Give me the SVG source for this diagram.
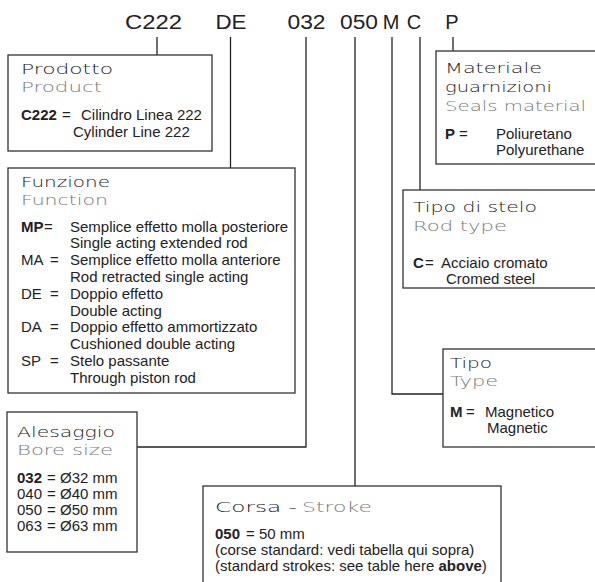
<svg xmlns="http://www.w3.org/2000/svg" width="595" height="582" viewBox="0 0 595 582">
<style>
.hd{font-family:"DejaVu Sans",sans-serif;font-weight:200;font-size:14px;fill:#1a1a1a}
.hg{fill:#7a7a7a}
.b{font-family:"Liberation Sans",Arial,sans-serif;font-size:15px;fill:#222}
.bb{font-weight:bold}
.box{fill:#fff;stroke:#333;stroke-width:1.3}
.ln{stroke:#222;stroke-width:1.3;fill:none}
.code{font-family:"Liberation Sans",Arial,sans-serif;font-size:20px;fill:#222;text-anchor:middle}
</style>
<rect width="595" height="582" fill="#fff"/>
<g id="code">
<text class="code" x="153.5" y="29" textLength="57" lengthAdjust="spacingAndGlyphs">C222</text>
<text class="code" x="231" y="29" textLength="31" lengthAdjust="spacingAndGlyphs">DE</text>
<text class="code" x="306.5" y="29" textLength="38" lengthAdjust="spacingAndGlyphs">032</text>
<text class="code" x="359" y="29" textLength="38" lengthAdjust="spacingAndGlyphs">050</text>
<text class="code" x="391" y="29">M</text>
<text class="code" x="414" y="29">C</text>
<text class="code" x="452" y="29">P</text>
</g>
<g id="connectors">
<path class="ln" d="M157 37V55"/>
<path class="ln" d="M230.5 37V168"/>
<path class="ln" d="M306 37V447H137"/>
<path class="ln" d="M355 37V486"/>
<path class="ln" d="M392 37V394H443"/>
<path class="ln" d="M420 37V190"/>
<path class="ln" d="M453 37V51"/>
</g>
<g id="prodotto">
<rect class="box" x="8" y="55" width="204" height="96"/>
<text class="hd" x="21" y="74" textLength="92" lengthAdjust="spacingAndGlyphs">Prodotto</text>
<text class="hd hg" x="21" y="92" textLength="81" lengthAdjust="spacingAndGlyphs">Product</text>
<text class="b" y="120"><tspan class="bb" x="21">C222</tspan><tspan x="62">=</tspan><tspan x="81">Cilindro Linea 222</tspan></text>
<text class="b" x="73" y="137">Cylinder Line 222</text>
</g>
<g id="funzione">
<rect class="box" x="8" y="168" width="287" height="225"/>
<text class="hd" x="21" y="187" textLength="89" lengthAdjust="spacingAndGlyphs">Funzione</text>
<text class="hd hg" x="21" y="205" textLength="87" lengthAdjust="spacingAndGlyphs">Function</text>
<text class="b" y="231.5"><tspan class="bb" x="21">MP</tspan><tspan x="44">=</tspan><tspan x="70">Semplice effetto molla posteriore</tspan></text>
<text class="b" x="70" y="248.3">Single acting extended rod</text>
<text class="b" y="265.1"><tspan x="21">MA</tspan><tspan x="50">=</tspan><tspan x="70">Semplice effetto molla anteriore</tspan></text>
<text class="b" x="70" y="281.9">Rod retracted single acting</text>
<text class="b" y="298.7"><tspan x="21">DE</tspan><tspan x="50">=</tspan><tspan x="70">Doppio effetto</tspan></text>
<text class="b" x="70" y="315.5">Double acting</text>
<text class="b" y="332.3"><tspan x="21">DA</tspan><tspan x="50">=</tspan><tspan x="70">Doppio effetto ammortizzato</tspan></text>
<text class="b" x="70" y="349.1">Cushioned double acting</text>
<text class="b" y="365.9"><tspan x="21">SP</tspan><tspan x="50">=</tspan><tspan x="70">Stelo passante</tspan></text>
<text class="b" x="70" y="382.7">Through piston rod</text>
</g>
<g id="alesaggio">
<rect class="box" x="7" y="412" width="130" height="140"/>
<text class="hd" x="17" y="437" textLength="98" lengthAdjust="spacingAndGlyphs">Alesaggio</text>
<text class="hd hg" x="17" y="455" textLength="96" lengthAdjust="spacingAndGlyphs">Bore size</text>
<text class="b" y="483"><tspan class="bb" x="17">032</tspan><tspan x="47">=</tspan><tspan x="60">Ø32 mm</tspan></text>
<text class="b" y="499"><tspan x="17">040</tspan><tspan x="47">=</tspan><tspan x="60">Ø40 mm</tspan></text>
<text class="b" y="515"><tspan x="17">050</tspan><tspan x="47">=</tspan><tspan x="60">Ø50 mm</tspan></text>
<text class="b" y="531"><tspan x="17">063</tspan><tspan x="47">=</tspan><tspan x="60">Ø63 mm</tspan></text>
</g>
<g id="corsa">
<rect class="box" x="203" y="486" width="298" height="110"/>
<text class="hd" y="512"><tspan x="215" textLength="82" lengthAdjust="spacingAndGlyphs">Corsa -</tspan><tspan class="hg" x="302" textLength="70" lengthAdjust="spacingAndGlyphs">Stroke</tspan></text>
<text class="b" y="538.5"><tspan class="bb" x="215">050</tspan><tspan x="246">=</tspan><tspan x="259">50 mm</tspan></text>
<text class="b" x="215" y="554.5">(corse standard: vedi tabella qui sopra)</text>
<text class="b" x="215" y="570.5">(standard strokes: see table here <tspan class="bb">above</tspan>)</text>
</g>
<g id="materiale">
<rect class="box" x="436" y="51" width="170" height="113"/>
<text class="hd" x="445" y="73" textLength="97" lengthAdjust="spacingAndGlyphs">Materiale</text>
<text class="hd" x="445" y="92" textLength="107" lengthAdjust="spacingAndGlyphs">guarnizioni</text>
<text class="hd hg" x="445" y="111" textLength="141" lengthAdjust="spacingAndGlyphs">Seals material</text>
<text class="b" y="139"><tspan class="bb" x="445">P</tspan><tspan x="459">=</tspan><tspan x="496">Poliuretano</tspan></text>
<text class="b" x="496" y="155">Polyurethane</text>
</g>
<g id="stelo">
<rect class="box" x="403" y="190" width="200" height="98"/>
<text class="hd" x="413" y="212" textLength="124" lengthAdjust="spacingAndGlyphs">Tipo di stelo</text>
<text class="hd hg" x="413" y="231" textLength="94" lengthAdjust="spacingAndGlyphs">Rod type</text>
<text class="b" y="267.5"><tspan class="bb" x="413">C</tspan><tspan x="425">=</tspan><tspan x="441">Acciaio cromato</tspan></text>
<text class="b" x="446" y="283.5">Cromed steel</text>
</g>
<g id="tipo">
<rect class="box" x="443" y="349" width="160" height="98"/>
<text class="hd" x="450" y="368" textLength="42" lengthAdjust="spacingAndGlyphs">Tipo</text>
<text class="hd hg" x="450" y="386" textLength="48" lengthAdjust="spacingAndGlyphs">Type</text>
<text class="b" y="416.5"><tspan class="bb" x="450">M</tspan><tspan x="466">=</tspan><tspan x="485">Magnetico</tspan></text>
<text class="b" x="487" y="432.5">Magnetic</text>
</g>
</svg>
